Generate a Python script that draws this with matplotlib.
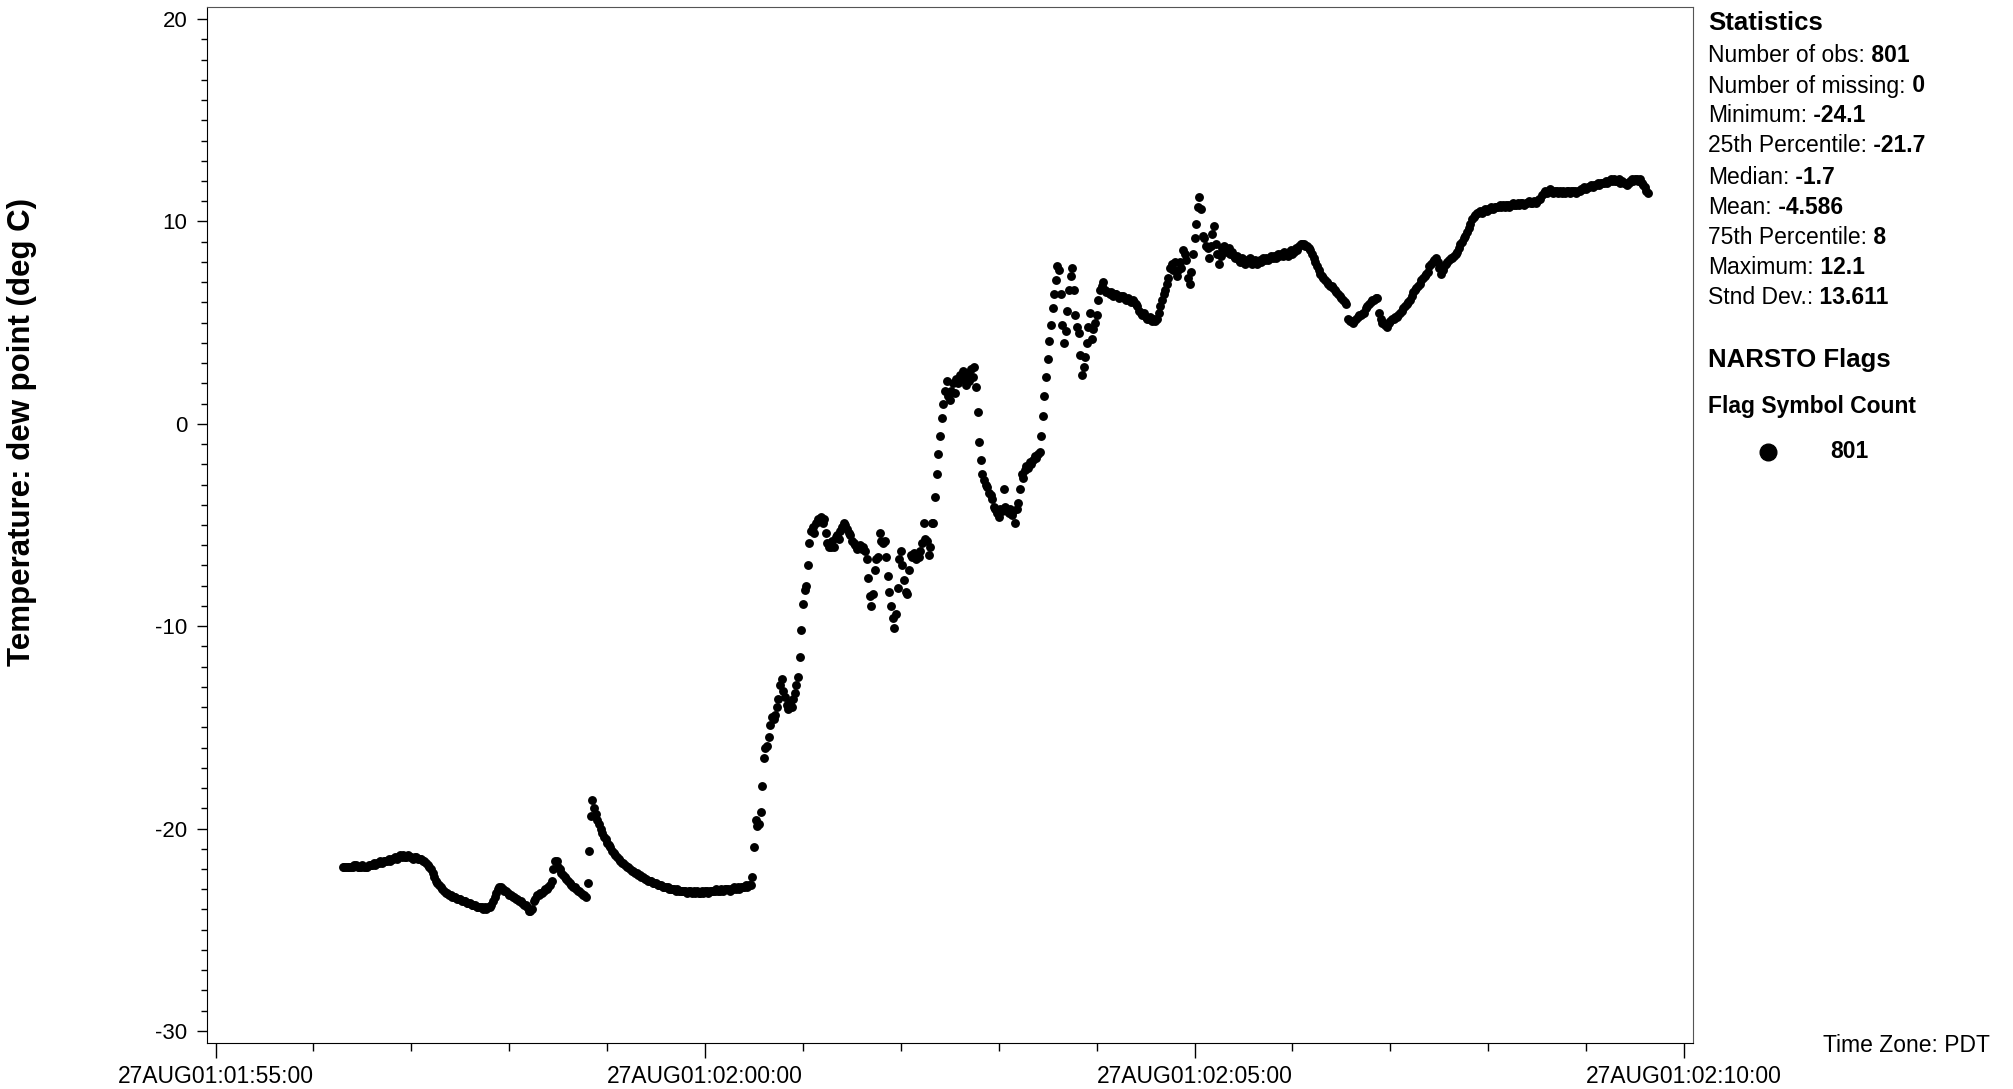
import numpy as np
import pandas as pd
import matplotlib
matplotlib.use("Agg")
import matplotlib.pyplot as plt
import matplotlib.dates as mdates
from matplotlib.lines import Line2D
from matplotlib.ticker import MultipleLocator, FuncFormatter

plt.rcParams['font.family'] = ['Liberation Sans', 'DejaVu Sans']
plt.rcParams['axes.unicode_minus'] = False

# one observation per second, starting at 01:56:18
start_time = "2001-08-27 01:56:18"
sample_seconds = 1

dew_point = [
    -21.9, -21.9, -21.9, -21.9, -21.9, -21.9, -21.9, -21.8, -21.8, -21.9,
    -21.9, -21.9, -21.8, -21.9, -21.9, -21.9, -21.8, -21.8, -21.8, -21.7,
    -21.8, -21.7, -21.7, -21.6, -21.7, -21.6, -21.6, -21.6, -21.5, -21.6,
    -21.5, -21.5, -21.4, -21.5, -21.4, -21.3, -21.4, -21.3, -21.4, -21.4,
    -21.3, -21.4, -21.4, -21.5, -21.4, -21.4, -21.5, -21.5, -21.5, -21.6,
    -21.6, -21.7, -21.8, -21.9, -22.0, -22.2, -22.4, -22.6, -22.7, -22.8,
    -22.9, -23.0, -23.1, -23.2, -23.2, -23.3, -23.3, -23.4, -23.4, -23.4,
    -23.5, -23.5, -23.5, -23.6, -23.6, -23.6, -23.7, -23.7, -23.7, -23.8,
    -23.8, -23.8, -23.9, -23.9, -23.9, -23.9, -24.0, -23.9, -24.0, -23.9,
    -23.9, -23.8, -23.6, -23.4, -23.2, -23.0, -22.9, -22.9, -23.0, -23.1,
    -23.1, -23.2, -23.3, -23.3, -23.4, -23.4, -23.5, -23.5, -23.6, -23.6,
    -23.7, -23.8, -23.8, -23.9, -24.1, -24.1, -24.0, -23.6, -23.5, -23.3,
    -23.3, -23.2, -23.2, -23.1, -23.0, -23.0, -22.9, -22.8, -22.6, -22.0,
    -21.6, -21.6, -21.9, -22.0, -22.2, -22.3, -22.4, -22.5, -22.6, -22.7,
    -22.8, -22.9, -22.9, -23.0, -23.1, -23.1, -23.2, -23.3, -23.3, -23.4,
    -22.7, -21.1, -19.4, -18.6, -19.0, -19.3, -19.6, -19.8, -20.0, -20.2,
    -20.4, -20.5, -20.7, -20.8, -20.9, -21.1, -21.2, -21.3, -21.4, -21.5,
    -21.6, -21.7, -21.7, -21.8, -21.9, -21.9, -22.0, -22.1, -22.1, -22.2,
    -22.2, -22.3, -22.3, -22.4, -22.4, -22.5, -22.5, -22.6, -22.6, -22.6,
    -22.7, -22.7, -22.7, -22.8, -22.8, -22.8, -22.9, -22.9, -22.9, -22.9,
    -23.0, -23.0, -23.0, -23.0, -23.1, -23.0, -23.1, -23.1, -23.1, -23.1,
    -23.1, -23.2, -23.1, -23.1, -23.2, -23.1, -23.2, -23.1, -23.2, -23.2,
    -23.1, -23.2, -23.1, -23.1, -23.2, -23.1, -23.1, -23.1, -23.1, -23.0,
    -23.1, -23.1, -23.0, -23.1, -23.0, -23.0, -23.0, -23.1, -23.0, -23.0,
    -22.9, -23.0, -22.9, -23.0, -22.9, -22.9, -22.9, -22.8, -22.9, -22.8,
    -22.8, -22.4, -20.9, -19.6, -19.9, -19.8, -19.2, -17.9, -16.5, -16.0,
    -15.9, -15.5, -14.9, -14.5, -14.6, -14.4, -14.0, -13.6, -12.9, -12.6,
    -13.2, -13.5, -13.9, -14.1, -13.8, -14.0, -13.6, -13.3, -12.9, -12.5,
    -11.5, -10.2, -8.9, -8.2, -8.0, -7.0, -5.9, -5.3, -5.1, -5.4,
    -4.9, -4.7, -4.8, -4.6, -4.9, -4.7, -5.4, -5.9, -6.1, -6.1,
    -5.8, -6.1, -5.6, -5.5, -5.7, -5.3, -5.1, -4.9, -5.0, -5.2,
    -5.4, -5.5, -5.8, -5.9, -6.0, -6.2, -6.1, -6.0, -6.2, -6.1,
    -6.3, -6.7, -7.6, -8.5, -9.0, -8.4, -7.2, -6.7, -6.6, -5.4,
    -5.8, -5.9, -5.8, -6.6, -7.5, -8.3, -9.0, -9.6, -10.1, -9.4,
    -8.1, -6.7, -6.3, -7.0, -7.7, -8.3, -8.4, -7.2, -6.5, -6.6,
    -6.4, -6.7, -6.5, -6.6, -6.3, -5.9, -4.9, -5.7, -5.8, -6.5,
    -6.1, -4.9, -4.9, -3.6, -2.5, -1.5, -0.6, 0.3, 1.0, 1.6,
    2.1, 1.4, 1.2, 1.6, 2.0, 1.5, 2.2, 2.0, 2.4, 2.2,
    2.6, 2.3, 1.9, 2.5, 2.1, 2.7, 2.3, 2.8, 1.8, 0.6,
    -0.9, -1.8, -2.5, -2.8, -3.0, -3.1, -3.4, -3.5, -3.7, -4.1,
    -4.2, -4.4, -4.6, -4.2, -4.3, -3.2, -4.1, -4.3, -4.4, -4.2,
    -4.5, -4.3, -4.9, -4.2, -3.9, -3.2, -2.5, -2.7, -2.3, -2.1,
    -2.2, -1.9, -2.0, -1.8, -1.6, -1.7, -1.5, -1.4, -0.6, 0.4,
    1.4, 2.3, 3.2, 4.1, 4.9, 5.7, 6.4, 7.1, 7.8, 7.6,
    6.4, 4.9, 4.0, 4.6, 5.6, 6.6, 7.3, 7.7, 6.6, 5.4,
    4.8, 4.5, 3.4, 2.4, 2.8, 3.3, 4.0, 4.8, 5.5, 4.2,
    4.7, 5.0, 5.4, 6.1, 6.6, 6.8, 7.0, 6.6, 6.5, 6.5,
    6.4, 6.5, 6.3, 6.4, 6.4, 6.3, 6.2, 6.3, 6.3, 6.2,
    6.1, 6.2, 6.1, 6.0, 6.1, 6.0, 5.9, 5.8, 5.6, 5.5,
    5.4, 5.5, 5.3, 5.2, 5.2, 5.3, 5.1, 5.2, 5.1, 5.2,
    5.5, 5.8, 6.1, 6.4, 6.6, 6.9, 7.2, 7.7, 7.9, 7.6,
    8.0, 7.3, 7.6, 8.0, 7.7, 8.6, 8.4, 8.1, 7.2, 6.9,
    7.5, 8.4, 9.2, 9.9, 10.7, 11.2, 10.6, 9.3, 9.2, 8.8,
    8.7, 8.2, 8.8, 9.4, 9.8, 8.9, 8.4, 7.9, 8.3, 8.7,
    8.8, 8.6, 8.5, 8.7, 8.4, 8.5, 8.3, 8.2, 8.3, 8.1,
    8.0, 8.2, 8.0, 7.9, 8.1, 8.0, 8.2, 7.9, 8.0, 8.1,
    7.9, 8.0, 8.1, 8.0, 8.2, 8.1, 8.2, 8.1, 8.2, 8.3,
    8.2, 8.3, 8.2, 8.4, 8.3, 8.4, 8.3, 8.5, 8.4, 8.3,
    8.5, 8.6, 8.4, 8.5, 8.7, 8.6, 8.8, 8.9, 8.9, 8.9,
    8.8, 8.8, 8.7, 8.6, 8.4, 8.2, 8.0, 7.8, 7.6, 7.4,
    7.3, 7.2, 7.1, 7.0, 6.9, 6.8, 6.8, 6.7, 6.6, 6.5,
    6.4, 6.3, 6.2, 6.1, 6.0, 5.9, 5.2, 5.1, 5.1, 5.0,
    5.1, 5.2, 5.3, 5.4, 5.4, 5.5, 5.5, 5.7, 5.8, 5.9,
    6.0, 6.1, 6.1, 6.2, 6.2, 5.5, 5.2, 5.0, 5.0, 4.9,
    4.8, 5.0, 5.1, 5.2, 5.2, 5.3, 5.3, 5.4, 5.5, 5.6,
    5.7, 5.8, 5.9, 6.0, 6.1, 6.3, 6.5, 6.6, 6.7, 6.8,
    6.9, 7.1, 7.2, 7.3, 7.4, 7.5, 7.8, 7.9, 8.0, 8.1,
    8.2, 8.0, 7.7, 7.4, 7.6, 7.8, 7.9, 8.0, 8.1, 8.2,
    8.2, 8.3, 8.4, 8.5, 8.7, 8.9, 9.0, 9.2, 9.3, 9.5,
    9.7, 9.9, 10.1, 10.2, 10.3, 10.4, 10.4, 10.5, 10.4, 10.5,
    10.6, 10.5, 10.6, 10.6, 10.7, 10.6, 10.7, 10.7, 10.7, 10.8,
    10.7, 10.8, 10.7, 10.8, 10.8, 10.7, 10.8, 10.9, 10.8, 10.8,
    10.9, 10.8, 10.9, 10.9, 10.8, 10.9, 10.9, 11.0, 10.9, 10.9,
    11.0, 10.9, 11.0, 11.1, 11.1, 11.3, 11.4, 11.5, 11.4, 11.5,
    11.6, 11.5, 11.4, 11.5, 11.5, 11.4, 11.5, 11.4, 11.5, 11.4,
    11.5, 11.5, 11.4, 11.5, 11.5, 11.5, 11.4, 11.5, 11.5, 11.6,
    11.6, 11.7, 11.6, 11.7, 11.7, 11.8, 11.7, 11.8, 11.8, 11.9,
    11.8, 11.9, 11.9, 11.9, 12.0, 11.9, 12.0, 12.1, 12.0, 12.1,
    12.0, 12.0, 12.1, 11.9, 12.0, 11.9, 11.9, 11.8, 11.9, 12.0,
    12.1, 12.0, 12.1, 12.1, 12.0, 12.1, 11.9, 11.8, 11.7, 11.5,
    11.4,
]

stat_labels = ["Number of obs:", "Number of missing:", "Minimum:", "25th Percentile:",
               "Median:", "Mean:", "75th Percentile:", "Maximum:", "Stnd Dev.:"]
stat_values = ["801", "0", "-24.1", "-21.7", "-1.7", "-4.586", "8", "12.1", "13.611"]
flag_count = "801"

x_range = ("2001-08-27 01:54:54.5", "2001-08-27 02:10:05.5")
y_range = (-30.6, 20.6)

times = pd.date_range(start_time, periods=len(dew_point), freq=f"{sample_seconds}s")

fig = plt.figure(figsize=(20.13, 10.89), dpi=100)
ax = fig.add_axes([206.6 / 2013, 1 - 1043 / 1089, (1693 - 206.6) / 2013, (1043 - 7) / 1089])

ax.plot(times, dew_point, 'o', color='black', markersize=6.4, markeredgewidth=0)

ax.set_xlim(pd.Timestamp(x_range[0]), pd.Timestamp(x_range[1]))
ax.set_ylim(*y_range)

ax.xaxis.set_major_locator(mdates.MinuteLocator(byminute=range(0, 60, 5)))
ax.xaxis.set_minor_locator(mdates.MinuteLocator())
ax.xaxis.set_major_formatter(FuncFormatter(
    lambda v, pos: mdates.num2date(v).strftime('%d%b%y:%H:%M:%S').upper()))
ax.yaxis.set_major_locator(MultipleLocator(10))
ax.yaxis.set_minor_locator(MultipleLocator(1))
ax.yaxis.set_major_formatter(FuncFormatter(lambda v, pos: f"{v:.0f}"))

ax.tick_params(axis='x', which='major', length=11, width=1, pad=5, labelsize=16.5)
ax.tick_params(axis='x', which='minor', length=6, width=1)
ax.tick_params(axis='y', which='major', length=7, width=1, pad=7, labelsize=16)
ax.tick_params(axis='y', which='minor', length=4.5, width=1)
for side in ['left', 'bottom']:
    ax.spines[side].set_color('black')
for side in ['top', 'right']:
    ax.spines[side].set_color('#555555')

fig.text(22 / 2013, 1 - 432 / 1089, "Temperature: dew point (deg C)", rotation=90,
         ha='center', va='center', fontsize=22.5, fontweight='bold')

# statistics panel: regular label followed by bold value
tx = 1708 / 2013
fig.text(tx, 1 - 23 / 1089, "Statistics", fontsize=18.5, fontweight='bold', va='center')
line_y = [56, 86, 116, 146, 177, 207, 238, 268, 298]
for lab, val, yy in zip(stat_labels, stat_values, line_y):
    t = fig.text(tx, 1 - yy / 1089, lab, fontsize=16.5, va='center')
    ax.annotate(" " + val, xy=(1, 0), xycoords=t, fontsize=16.5, fontweight='bold',
                va='bottom', ha='left')

fig.text(tx, 1 - 360 / 1089, "NARSTO Flags", fontsize=18.5, fontweight='bold', va='center')
fig.text(tx, 1 - 407 / 1089, "Flag Symbol Count", fontsize=16.5, fontweight='bold', va='center')
fig.add_artist(Line2D([1768 / 2013], [1 - 452 / 1089], transform=fig.transFigure,
                      marker='o', markersize=12, color='black', linestyle='none'))
fig.text(1830 / 2013, 1 - 452 / 1089, flag_count, fontsize=16.5, fontweight='bold', va='center')

fig.text(1990 / 2013, 1 - 1046 / 1089, "Time Zone: PDT", fontsize=16.5, ha='right', va='center')

fig.savefig("out.png", dpi=100)
